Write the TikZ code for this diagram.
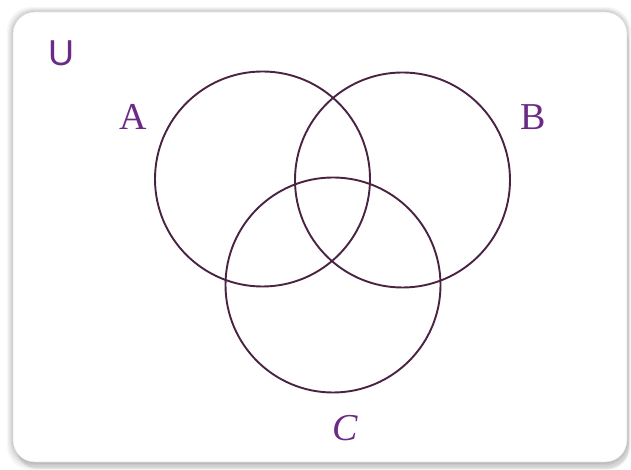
\documentclass[tikz,border=0pt]{standalone}
\usepackage{fontspec}
\setmainfont{Liberation Serif}
\newfontfamily\usans{Liberation Sans}
\definecolor{ringcol}{HTML}{4A2342}
\definecolor{labcol}{HTML}{6B2A86}
\definecolor{framecol}{HTML}{E6E6E6}
\tikzset{
  ring/.style={draw=ringcol, line width=1.9pt},
  lab/.style={text=labcol, font=\fontsize{38}{42}\selectfont, inner sep=0pt},
}
\begin{document}
\begin{tikzpicture}[x=1pt,y=1pt]
\useasboundingbox (0,0) rectangle (631,470);
\fill[white] (0,0) rectangle (631,470);
% soft shadow
\foreach \o/\a in {10/0.03,8/0.035,6/0.04,4/0.05,2/0.07}{
  \fill[black,opacity=\a,rounded corners=24pt] (13-\o*0.6,8-\o*0.8) rectangle (627+\o*0.4,458+\o*0.5);
}
\fill[black,opacity=0.08,rounded corners=22pt] (16,1) rectangle (629,450);
\fill[white,draw=framecol,line width=0.6pt,rounded corners=22pt] (13,8) rectangle (627,458);
% circles
\node[ring,circle,minimum size=215pt,inner sep=0pt] (cA) at (262.5,291) {};
\node[ring,circle,minimum size=215pt,inner sep=0pt] (cB) at (402.5,290) {};
\node[ring,circle,minimum size=215pt,inner sep=0pt] (cC) at (333,185) {};
% labels
\node[lab,font=\usans\fontsize{36}{40}\selectfont] (lU) at (61,417) {U};
\node[lab] (lA) at (133,353) {A};
\node[lab] (lB) at (533,353) {B};
\node[lab,font=\fontsize{38}{42}\selectfont\itshape] (lC) at (345,42) {C};
\end{tikzpicture}
\end{document}
